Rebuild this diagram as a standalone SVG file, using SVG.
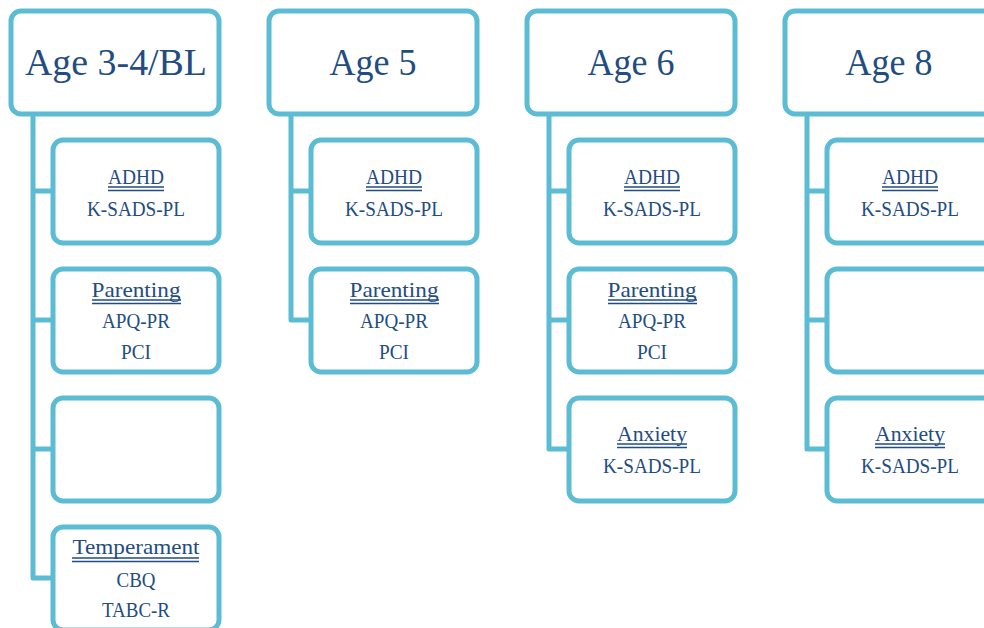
<svg xmlns="http://www.w3.org/2000/svg" width="984" height="628" viewBox="0 0 984 628">
<style>
.box{fill:#fff;stroke:#5BBCD4;stroke-width:5}
.con{fill:none;stroke:#5BBCD4;stroke-width:5;stroke-linejoin:round}
.h{font-family:"Liberation Serif",serif;font-size:38px;fill:#234C80;text-anchor:middle}
.t{font-family:"Liberation Serif",serif;font-size:21px;fill:#234C80;text-anchor:middle}
.u{stroke:#234C80;stroke-width:1.6}
</style>
<rect width="984" height="628" fill="#fff"/>
<g id="connectors">
<path class="con" d="M33 114V578H53M33 191H53M33 320H53M33 449H53"/>
<path class="con" d="M291 114V320H311M291 191H311"/>
<path class="con" d="M549 114V449H569M549 191H569M549 320H569"/>
<path class="con" d="M807 114V449H827M807 191H827M807 320H827"/>
</g>
<g id="age34"><rect class="box" x="11" y="11" width="208" height="103" rx="10"/><text class="h" x="116" y="75" textLength="182" lengthAdjust="spacingAndGlyphs">Age 3-4/BL</text></g>
<g id="age5"><rect class="box" x="269" y="11" width="208" height="103" rx="10"/><text class="h" x="373" y="75" textLength="87" lengthAdjust="spacingAndGlyphs">Age 5</text></g>
<g id="age6"><rect class="box" x="527" y="11" width="208" height="103" rx="10"/><text class="h" x="631" y="75" textLength="87" lengthAdjust="spacingAndGlyphs">Age 6</text></g>
<g id="age8"><rect class="box" x="785" y="11" width="208" height="103" rx="10"/><text class="h" x="889" y="75" textLength="87" lengthAdjust="spacingAndGlyphs">Age 8</text></g>

<g id="c1-adhd"><rect class="box" x="53" y="140" width="166" height="103" rx="10"/>
<text class="t" x="136" y="184" textLength="56" lengthAdjust="spacingAndGlyphs">ADHD</text>
<path class="u" d="M108 187H164M108 190.5H164"/>
<text class="t" x="136" y="216" textLength="98" lengthAdjust="spacingAndGlyphs">K-SADS-PL</text></g>
<g id="c1-parenting"><rect class="box" x="53" y="269" width="166" height="103" rx="10"/>
<text class="t" x="136" y="297" textLength="89" lengthAdjust="spacingAndGlyphs">Parenting</text>
<path class="u" d="M92 300H181M92 303.5H181"/>
<text class="t" x="136" y="328" textLength="68" lengthAdjust="spacingAndGlyphs">APQ-PR</text>
<text class="t" x="136" y="359" textLength="30" lengthAdjust="spacingAndGlyphs">PCI</text></g>
<g id="c1-empty"><rect class="box" x="53" y="398" width="166" height="103" rx="10"/></g>
<g id="c1-temperament"><rect class="box" x="53" y="527" width="166" height="103" rx="10"/>
<text class="t" x="136" y="554" textLength="127" lengthAdjust="spacingAndGlyphs">Temperament</text>
<path class="u" d="M72 558H199M72 561.5H199"/>
<text class="t" x="136" y="587" textLength="39" lengthAdjust="spacingAndGlyphs">CBQ</text>
<text class="t" x="136" y="617" textLength="68" lengthAdjust="spacingAndGlyphs">TABC-R</text></g>

<g id="c2-adhd"><rect class="box" x="311" y="140" width="166" height="103" rx="10"/>
<text class="t" x="394" y="184" textLength="56" lengthAdjust="spacingAndGlyphs">ADHD</text>
<path class="u" d="M366 187H422M366 190.5H422"/>
<text class="t" x="394" y="216" textLength="98" lengthAdjust="spacingAndGlyphs">K-SADS-PL</text></g>
<g id="c2-parenting"><rect class="box" x="311" y="269" width="166" height="103" rx="10"/>
<text class="t" x="394" y="297" textLength="89" lengthAdjust="spacingAndGlyphs">Parenting</text>
<path class="u" d="M350 300H439M350 303.5H439"/>
<text class="t" x="394" y="328" textLength="68" lengthAdjust="spacingAndGlyphs">APQ-PR</text>
<text class="t" x="394" y="359" textLength="30" lengthAdjust="spacingAndGlyphs">PCI</text></g>

<g id="c3-adhd"><rect class="box" x="569" y="140" width="166" height="103" rx="10"/>
<text class="t" x="652" y="184" textLength="56" lengthAdjust="spacingAndGlyphs">ADHD</text>
<path class="u" d="M624 187H680M624 190.5H680"/>
<text class="t" x="652" y="216" textLength="98" lengthAdjust="spacingAndGlyphs">K-SADS-PL</text></g>
<g id="c3-parenting"><rect class="box" x="569" y="269" width="166" height="103" rx="10"/>
<text class="t" x="652" y="297" textLength="89" lengthAdjust="spacingAndGlyphs">Parenting</text>
<path class="u" d="M608 300H697M608 303.5H697"/>
<text class="t" x="652" y="328" textLength="68" lengthAdjust="spacingAndGlyphs">APQ-PR</text>
<text class="t" x="652" y="359" textLength="30" lengthAdjust="spacingAndGlyphs">PCI</text></g>
<g id="c3-anxiety"><rect class="box" x="569" y="398" width="166" height="103" rx="10"/>
<text class="t" x="652" y="441" textLength="70" lengthAdjust="spacingAndGlyphs">Anxiety</text>
<path class="u" d="M617 444H687M617 447.5H687"/>
<text class="t" x="652" y="473" textLength="98" lengthAdjust="spacingAndGlyphs">K-SADS-PL</text></g>

<g id="c4-adhd"><rect class="box" x="827" y="140" width="166" height="103" rx="10"/>
<text class="t" x="910" y="184" textLength="56" lengthAdjust="spacingAndGlyphs">ADHD</text>
<path class="u" d="M882 187H938M882 190.5H938"/>
<text class="t" x="910" y="216" textLength="98" lengthAdjust="spacingAndGlyphs">K-SADS-PL</text></g>
<g id="c4-empty"><rect class="box" x="827" y="269" width="166" height="103" rx="10"/></g>
<g id="c4-anxiety"><rect class="box" x="827" y="398" width="166" height="103" rx="10"/>
<text class="t" x="910" y="441" textLength="70" lengthAdjust="spacingAndGlyphs">Anxiety</text>
<path class="u" d="M875 444H945M875 447.5H945"/>
<text class="t" x="910" y="473" textLength="98" lengthAdjust="spacingAndGlyphs">K-SADS-PL</text></g>
</svg>
